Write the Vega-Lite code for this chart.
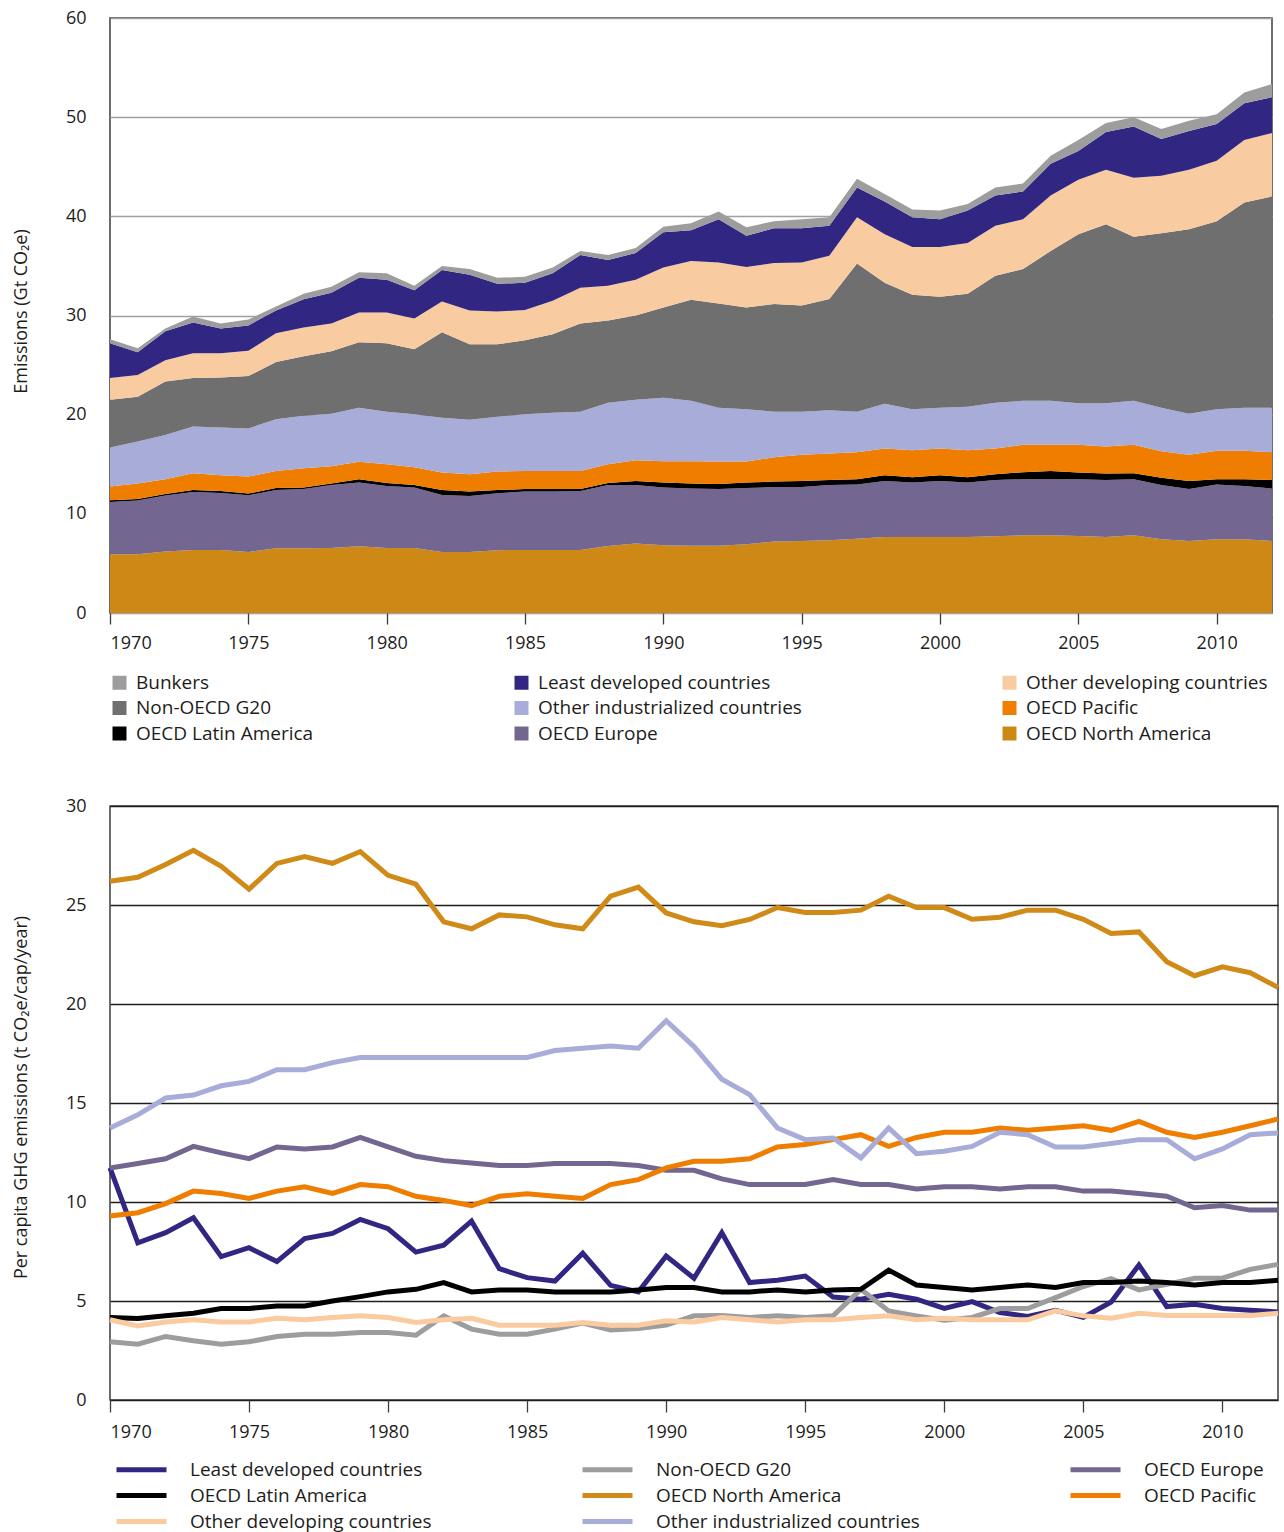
{
  "$schema": "https://vega.github.io/schema/vega-lite/v6.json",
  "background": "white",
  "padding": {"left": 11, "top": 8, "right": 4, "bottom": 5},
  "spacing": 51,
  "resolve": {"scale": {"color": "independent"}, "legend": {"color": "independent"}},
  "config": {
    "font": "Open Sans",
    "view": {"stroke": "#3c3c3c", "strokeWidth": 1.5},
    "axis": {"labelFont": "Open Sans", "labelFontSize": 18, "labelColor": "#1d1d1b", "titleFont": "Open Sans", "titleFontSize": 18, "titleFontWeight": "normal", "titleColor": "#1d1d1b", "domain": false},
    "legend": {"labelFont": "Open Sans", "labelFontSize": 19, "labelColor": "#1d1d1b", "padding": 0, "title": null}
  },
  "datasets": {
    "layers": [
      {"region":"OECD North America","layer":1},{"region":"OECD Europe","layer":2},{"region":"OECD Latin America","layer":3},{"region":"OECD Pacific","layer":4},{"region":"Other industrialized countries","layer":5},{"region":"Non-OECD G20","layer":6},{"region":"Other developing countries","layer":7},{"region":"Least developed countries","layer":8},{"region":"Bunkers","layer":9}
    ],
    "emissions": [
      {"year":1970,"region":"OECD North America","value":5.92},{"year":1970,"region":"OECD Europe","value":5.28},{"year":1970,"region":"OECD Latin America","value":0.17},{"year":1970,"region":"OECD Pacific","value":1.38},{"year":1970,"region":"Other industrialized countries","value":3.95},{"year":1970,"region":"Non-OECD G20","value":4.8},{"year":1970,"region":"Other developing countries","value":2.2},{"year":1970,"region":"Least developed countries","value":3.5},{"year":1970,"region":"Bunkers","value":0.4},
      {"year":1971,"region":"OECD North America","value":5.92},{"year":1971,"region":"OECD Europe","value":5.43},{"year":1971,"region":"OECD Latin America","value":0.15},{"year":1971,"region":"OECD Pacific","value":1.55},{"year":1971,"region":"Other industrialized countries","value":4.25},{"year":1971,"region":"Non-OECD G20","value":4.5},{"year":1971,"region":"Other developing countries","value":2.2},{"year":1971,"region":"Least developed countries","value":2.3},{"year":1971,"region":"Bunkers","value":0.4},
      {"year":1972,"region":"OECD North America","value":6.19},{"year":1972,"region":"OECD Europe","value":5.65},{"year":1972,"region":"OECD Latin America","value":0.16},{"year":1972,"region":"OECD Pacific","value":1.5},{"year":1972,"region":"Other industrialized countries","value":4.46},{"year":1972,"region":"Non-OECD G20","value":5.39},{"year":1972,"region":"Other developing countries","value":2.15},{"year":1972,"region":"Least developed countries","value":2.9},{"year":1972,"region":"Bunkers","value":0.3},
      {"year":1973,"region":"OECD North America","value":6.36},{"year":1973,"region":"OECD Europe","value":5.84},{"year":1973,"region":"OECD Latin America","value":0.2},{"year":1973,"region":"OECD Pacific","value":1.7},{"year":1973,"region":"Other industrialized countries","value":4.7},{"year":1973,"region":"Non-OECD G20","value":4.9},{"year":1973,"region":"Other developing countries","value":2.5},{"year":1973,"region":"Least developed countries","value":3.1},{"year":1973,"region":"Bunkers","value":0.6},
      {"year":1974,"region":"OECD North America","value":6.36},{"year":1974,"region":"OECD Europe","value":5.74},{"year":1974,"region":"OECD Latin America","value":0.2},{"year":1974,"region":"OECD Pacific","value":1.6},{"year":1974,"region":"Other industrialized countries","value":4.8},{"year":1974,"region":"Non-OECD G20","value":5.05},{"year":1974,"region":"Other developing countries","value":2.45},{"year":1974,"region":"Least developed countries","value":2.5},{"year":1974,"region":"Bunkers","value":0.5},
      {"year":1975,"region":"OECD North America","value":6.16},{"year":1975,"region":"OECD Europe","value":5.72},{"year":1975,"region":"OECD Latin America","value":0.16},{"year":1975,"region":"OECD Pacific","value":1.72},{"year":1975,"region":"Other industrialized countries","value":4.84},{"year":1975,"region":"Non-OECD G20","value":5.3},{"year":1975,"region":"Other developing countries","value":2.54},{"year":1975,"region":"Least developed countries","value":2.56},{"year":1975,"region":"Bunkers","value":0.6},
      {"year":1976,"region":"OECD North America","value":6.53},{"year":1976,"region":"OECD Europe","value":5.87},{"year":1976,"region":"OECD Latin America","value":0.2},{"year":1976,"region":"OECD Pacific","value":1.73},{"year":1976,"region":"Other industrialized countries","value":5.22},{"year":1976,"region":"Non-OECD G20","value":5.75},{"year":1976,"region":"Other developing countries","value":2.9},{"year":1976,"region":"Least developed countries","value":2.3},{"year":1976,"region":"Bunkers","value":0.4},
      {"year":1977,"region":"OECD North America","value":6.53},{"year":1977,"region":"OECD Europe","value":5.97},{"year":1977,"region":"OECD Latin America","value":0.15},{"year":1977,"region":"OECD Pacific","value":1.95},{"year":1977,"region":"Other industrialized countries","value":5.3},{"year":1977,"region":"Non-OECD G20","value":6.0},{"year":1977,"region":"Other developing countries","value":2.9},{"year":1977,"region":"Least developed countries","value":2.85},{"year":1977,"region":"Bunkers","value":0.55},
      {"year":1978,"region":"OECD North America","value":6.56},{"year":1978,"region":"OECD Europe","value":6.34},{"year":1978,"region":"OECD Latin America","value":0.15},{"year":1978,"region":"OECD Pacific","value":1.75},{"year":1978,"region":"Other industrialized countries","value":5.3},{"year":1978,"region":"Non-OECD G20","value":6.3},{"year":1978,"region":"Other developing countries","value":2.8},{"year":1978,"region":"Least developed countries","value":3.1},{"year":1978,"region":"Bunkers","value":0.6},
      {"year":1979,"region":"OECD North America","value":6.73},{"year":1979,"region":"OECD Europe","value":6.42},{"year":1979,"region":"OECD Latin America","value":0.35},{"year":1979,"region":"OECD Pacific","value":1.74},{"year":1979,"region":"Other industrialized countries","value":5.46},{"year":1979,"region":"Non-OECD G20","value":6.6},{"year":1979,"region":"Other developing countries","value":3.0},{"year":1979,"region":"Least developed countries","value":3.5},{"year":1979,"region":"Bunkers","value":0.55},
      {"year":1980,"region":"OECD North America","value":6.56},{"year":1980,"region":"OECD Europe","value":6.24},{"year":1980,"region":"OECD Latin America","value":0.3},{"year":1980,"region":"OECD Pacific","value":1.9},{"year":1980,"region":"Other industrialized countries","value":5.3},{"year":1980,"region":"Non-OECD G20","value":6.9},{"year":1980,"region":"Other developing countries","value":3.1},{"year":1980,"region":"Least developed countries","value":3.3},{"year":1980,"region":"Bunkers","value":0.65},
      {"year":1981,"region":"OECD North America","value":6.56},{"year":1981,"region":"OECD Europe","value":6.09},{"year":1981,"region":"OECD Latin America","value":0.25},{"year":1981,"region":"OECD Pacific","value":1.8},{"year":1981,"region":"Other industrialized countries","value":5.35},{"year":1981,"region":"Non-OECD G20","value":6.55},{"year":1981,"region":"Other developing countries","value":3.1},{"year":1981,"region":"Least developed countries","value":2.85},{"year":1981,"region":"Bunkers","value":0.45},
      {"year":1982,"region":"OECD North America","value":6.16},{"year":1982,"region":"OECD Europe","value":5.74},{"year":1982,"region":"OECD Latin America","value":0.5},{"year":1982,"region":"OECD Pacific","value":1.76},{"year":1982,"region":"Other industrialized countries","value":5.54},{"year":1982,"region":"Non-OECD G20","value":8.6},{"year":1982,"region":"Other developing countries","value":3.1},{"year":1982,"region":"Least developed countries","value":3.2},{"year":1982,"region":"Bunkers","value":0.4},
      {"year":1983,"region":"OECD North America","value":6.16},{"year":1983,"region":"OECD Europe","value":5.64},{"year":1983,"region":"OECD Latin America","value":0.45},{"year":1983,"region":"OECD Pacific","value":1.75},{"year":1983,"region":"Other industrialized countries","value":5.5},{"year":1983,"region":"Non-OECD G20","value":7.6},{"year":1983,"region":"Other developing countries","value":3.4},{"year":1983,"region":"Least developed countries","value":3.6},{"year":1983,"region":"Bunkers","value":0.6},
      {"year":1984,"region":"OECD North America","value":6.33},{"year":1984,"region":"OECD Europe","value":5.75},{"year":1984,"region":"OECD Latin America","value":0.32},{"year":1984,"region":"OECD Pacific","value":1.86},{"year":1984,"region":"Other industrialized countries","value":5.54},{"year":1984,"region":"Non-OECD G20","value":7.3},{"year":1984,"region":"Other developing countries","value":3.3},{"year":1984,"region":"Least developed countries","value":2.8},{"year":1984,"region":"Bunkers","value":0.6},
      {"year":1985,"region":"OECD North America","value":6.36},{"year":1985,"region":"OECD Europe","value":5.89},{"year":1985,"region":"OECD Latin America","value":0.25},{"year":1985,"region":"OECD Pacific","value":1.83},{"year":1985,"region":"Other industrialized countries","value":5.72},{"year":1985,"region":"Non-OECD G20","value":7.45},{"year":1985,"region":"Other developing countries","value":3.05},{"year":1985,"region":"Least developed countries","value":2.75},{"year":1985,"region":"Bunkers","value":0.6},
      {"year":1986,"region":"OECD North America","value":6.36},{"year":1986,"region":"OECD Europe","value":5.89},{"year":1986,"region":"OECD Latin America","value":0.25},{"year":1986,"region":"OECD Pacific","value":1.83},{"year":1986,"region":"Other industrialized countries","value":5.87},{"year":1986,"region":"Non-OECD G20","value":7.9},{"year":1986,"region":"Other developing countries","value":3.4},{"year":1986,"region":"Least developed countries","value":2.75},{"year":1986,"region":"Bunkers","value":0.6},
      {"year":1987,"region":"OECD North America","value":6.36},{"year":1987,"region":"OECD Europe","value":5.94},{"year":1987,"region":"OECD Latin America","value":0.2},{"year":1987,"region":"OECD Pacific","value":1.83},{"year":1987,"region":"Other industrialized countries","value":5.97},{"year":1987,"region":"Non-OECD G20","value":8.9},{"year":1987,"region":"Other developing countries","value":3.6},{"year":1987,"region":"Least developed countries","value":3.3},{"year":1987,"region":"Bunkers","value":0.4},
      {"year":1988,"region":"OECD North America","value":6.76},{"year":1988,"region":"OECD Europe","value":6.14},{"year":1988,"region":"OECD Latin America","value":0.2},{"year":1988,"region":"OECD Pacific","value":1.9},{"year":1988,"region":"Other industrialized countries","value":6.2},{"year":1988,"region":"Non-OECD G20","value":8.3},{"year":1988,"region":"Other developing countries","value":3.5},{"year":1988,"region":"Least developed countries","value":2.6},{"year":1988,"region":"Bunkers","value":0.5},
      {"year":1989,"region":"OECD North America","value":7.0},{"year":1989,"region":"OECD Europe","value":5.9},{"year":1989,"region":"OECD Latin America","value":0.4},{"year":1989,"region":"OECD Pacific","value":2.1},{"year":1989,"region":"Other industrialized countries","value":6.1},{"year":1989,"region":"Non-OECD G20","value":8.5},{"year":1989,"region":"Other developing countries","value":3.6},{"year":1989,"region":"Least developed countries","value":2.7},{"year":1989,"region":"Bunkers","value":0.5},
      {"year":1990,"region":"OECD North America","value":6.83},{"year":1990,"region":"OECD Europe","value":5.82},{"year":1990,"region":"OECD Latin America","value":0.5},{"year":1990,"region":"OECD Pacific","value":2.15},{"year":1990,"region":"Other industrialized countries","value":6.4},{"year":1990,"region":"Non-OECD G20","value":9.1},{"year":1990,"region":"Other developing countries","value":4.05},{"year":1990,"region":"Least developed countries","value":3.55},{"year":1990,"region":"Bunkers","value":0.56},
      {"year":1991,"region":"OECD North America","value":6.78},{"year":1991,"region":"OECD Europe","value":5.77},{"year":1991,"region":"OECD Latin America","value":0.5},{"year":1991,"region":"OECD Pacific","value":2.25},{"year":1991,"region":"Other industrialized countries","value":6.1},{"year":1991,"region":"Non-OECD G20","value":10.2},{"year":1991,"region":"Other developing countries","value":3.9},{"year":1991,"region":"Least developed countries","value":3.1},{"year":1991,"region":"Bunkers","value":0.7},
      {"year":1992,"region":"OECD North America","value":6.78},{"year":1992,"region":"OECD Europe","value":5.72},{"year":1992,"region":"OECD Latin America","value":0.5},{"year":1992,"region":"OECD Pacific","value":2.27},{"year":1992,"region":"Other industrialized countries","value":5.43},{"year":1992,"region":"Non-OECD G20","value":10.5},{"year":1992,"region":"Other developing countries","value":4.15},{"year":1992,"region":"Least developed countries","value":4.35},{"year":1992,"region":"Bunkers","value":0.8},
      {"year":1993,"region":"OECD North America","value":6.93},{"year":1993,"region":"OECD Europe","value":5.67},{"year":1993,"region":"OECD Latin America","value":0.55},{"year":1993,"region":"OECD Pacific","value":2.12},{"year":1993,"region":"Other industrialized countries","value":5.28},{"year":1993,"region":"Non-OECD G20","value":10.25},{"year":1993,"region":"Other developing countries","value":4.1},{"year":1993,"region":"Least developed countries","value":3.15},{"year":1993,"region":"Bunkers","value":0.85},
      {"year":1994,"region":"OECD North America","value":7.2},{"year":1994,"region":"OECD Europe","value":5.5},{"year":1994,"region":"OECD Latin America","value":0.55},{"year":1994,"region":"OECD Pacific","value":2.45},{"year":1994,"region":"Other industrialized countries","value":4.6},{"year":1994,"region":"Non-OECD G20","value":10.85},{"year":1994,"region":"Other developing countries","value":4.15},{"year":1994,"region":"Least developed countries","value":3.5},{"year":1994,"region":"Bunkers","value":0.7},
      {"year":1995,"region":"OECD North America","value":7.27},{"year":1995,"region":"OECD Europe","value":5.43},{"year":1995,"region":"OECD Latin America","value":0.6},{"year":1995,"region":"OECD Pacific","value":2.65},{"year":1995,"region":"Other industrialized countries","value":4.35},{"year":1995,"region":"Non-OECD G20","value":10.7},{"year":1995,"region":"Other developing countries","value":4.35},{"year":1995,"region":"Least developed countries","value":3.45},{"year":1995,"region":"Bunkers","value":0.9},
      {"year":1996,"region":"OECD North America","value":7.34},{"year":1996,"region":"OECD Europe","value":5.56},{"year":1996,"region":"OECD Latin America","value":0.5},{"year":1996,"region":"OECD Pacific","value":2.68},{"year":1996,"region":"Other industrialized countries","value":4.37},{"year":1996,"region":"Non-OECD G20","value":11.21},{"year":1996,"region":"Other developing countries","value":4.37},{"year":1996,"region":"Least developed countries","value":3.03},{"year":1996,"region":"Bunkers","value":0.84},
      {"year":1997,"region":"OECD North America","value":7.5},{"year":1997,"region":"OECD Europe","value":5.45},{"year":1997,"region":"OECD Latin America","value":0.55},{"year":1997,"region":"OECD Pacific","value":2.7},{"year":1997,"region":"Other industrialized countries","value":4.1},{"year":1997,"region":"Non-OECD G20","value":14.95},{"year":1997,"region":"Other developing countries","value":4.65},{"year":1997,"region":"Least developed countries","value":3.0},{"year":1997,"region":"Bunkers","value":0.9},
      {"year":1998,"region":"OECD North America","value":7.67},{"year":1998,"region":"OECD Europe","value":5.63},{"year":1998,"region":"OECD Latin America","value":0.6},{"year":1998,"region":"OECD Pacific","value":2.7},{"year":1998,"region":"Other industrialized countries","value":4.5},{"year":1998,"region":"Non-OECD G20","value":12.2},{"year":1998,"region":"Other developing countries","value":4.9},{"year":1998,"region":"Least developed countries","value":3.3},{"year":1998,"region":"Bunkers","value":0.75},
      {"year":1999,"region":"OECD North America","value":7.67},{"year":1999,"region":"OECD Europe","value":5.48},{"year":1999,"region":"OECD Latin America","value":0.55},{"year":1999,"region":"OECD Pacific","value":2.7},{"year":1999,"region":"Other industrialized countries","value":4.15},{"year":1999,"region":"Non-OECD G20","value":11.55},{"year":1999,"region":"Other developing countries","value":4.8},{"year":1999,"region":"Least developed countries","value":3.0},{"year":1999,"region":"Bunkers","value":0.8},
      {"year":2000,"region":"OECD North America","value":7.67},{"year":2000,"region":"OECD Europe","value":5.63},{"year":2000,"region":"OECD Latin America","value":0.6},{"year":2000,"region":"OECD Pacific","value":2.7},{"year":2000,"region":"Other industrialized countries","value":4.1},{"year":2000,"region":"Non-OECD G20","value":11.2},{"year":2000,"region":"Other developing countries","value":5.0},{"year":2000,"region":"Least developed countries","value":2.8},{"year":2000,"region":"Bunkers","value":0.9},
      {"year":2001,"region":"OECD North America","value":7.67},{"year":2001,"region":"OECD Europe","value":5.48},{"year":2001,"region":"OECD Latin America","value":0.55},{"year":2001,"region":"OECD Pacific","value":2.7},{"year":2001,"region":"Other industrialized countries","value":4.4},{"year":2001,"region":"Non-OECD G20","value":11.4},{"year":2001,"region":"Other developing countries","value":5.1},{"year":2001,"region":"Least developed countries","value":3.3},{"year":2001,"region":"Bunkers","value":0.65},
      {"year":2002,"region":"OECD North America","value":7.74},{"year":2002,"region":"OECD Europe","value":5.66},{"year":2002,"region":"OECD Latin America","value":0.6},{"year":2002,"region":"OECD Pacific","value":2.6},{"year":2002,"region":"Other industrialized countries","value":4.6},{"year":2002,"region":"Non-OECD G20","value":12.8},{"year":2002,"region":"Other developing countries","value":5.06},{"year":2002,"region":"Least developed countries","value":3.04},{"year":2002,"region":"Bunkers","value":0.8},
      {"year":2003,"region":"OECD North America","value":7.84},{"year":2003,"region":"OECD Europe","value":5.66},{"year":2003,"region":"OECD Latin America","value":0.7},{"year":2003,"region":"OECD Pacific","value":2.76},{"year":2003,"region":"Other industrialized countries","value":4.44},{"year":2003,"region":"Non-OECD G20","value":13.3},{"year":2003,"region":"Other developing countries","value":5.0},{"year":2003,"region":"Least developed countries","value":2.8},{"year":2003,"region":"Bunkers","value":0.8},
      {"year":2004,"region":"OECD North America","value":7.84},{"year":2004,"region":"OECD Europe","value":5.66},{"year":2004,"region":"OECD Latin America","value":0.83},{"year":2004,"region":"OECD Pacific","value":2.63},{"year":2004,"region":"Other industrialized countries","value":4.44},{"year":2004,"region":"Non-OECD G20","value":15.1},{"year":2004,"region":"Other developing countries","value":5.6},{"year":2004,"region":"Least developed countries","value":3.2},{"year":2004,"region":"Bunkers","value":0.8},
      {"year":2005,"region":"OECD North America","value":7.77},{"year":2005,"region":"OECD Europe","value":5.73},{"year":2005,"region":"OECD Latin America","value":0.66},{"year":2005,"region":"OECD Pacific","value":2.8},{"year":2005,"region":"Other industrialized countries","value":4.19},{"year":2005,"region":"Non-OECD G20","value":17.05},{"year":2005,"region":"Other developing countries","value":5.5},{"year":2005,"region":"Least developed countries","value":2.9},{"year":2005,"region":"Bunkers","value":1.1},
      {"year":2006,"region":"OECD North America","value":7.67},{"year":2006,"region":"OECD Europe","value":5.73},{"year":2006,"region":"OECD Latin America","value":0.66},{"year":2006,"region":"OECD Pacific","value":2.74},{"year":2006,"region":"Other industrialized countries","value":4.35},{"year":2006,"region":"Non-OECD G20","value":18.05},{"year":2006,"region":"Other developing countries","value":5.5},{"year":2006,"region":"Least developed countries","value":3.8},{"year":2006,"region":"Bunkers","value":0.9},
      {"year":2007,"region":"OECD North America","value":7.84},{"year":2007,"region":"OECD Europe","value":5.66},{"year":2007,"region":"OECD Latin America","value":0.6},{"year":2007,"region":"OECD Pacific","value":2.86},{"year":2007,"region":"Other industrialized countries","value":4.44},{"year":2007,"region":"Non-OECD G20","value":16.55},{"year":2007,"region":"Other developing countries","value":5.95},{"year":2007,"region":"Least developed countries","value":5.15},{"year":2007,"region":"Bunkers","value":0.95},
      {"year":2008,"region":"OECD North America","value":7.44},{"year":2008,"region":"OECD Europe","value":5.46},{"year":2008,"region":"OECD Latin America","value":0.75},{"year":2008,"region":"OECD Pacific","value":2.65},{"year":2008,"region":"Other industrialized countries","value":4.4},{"year":2008,"region":"Non-OECD G20","value":17.6},{"year":2008,"region":"Other developing countries","value":5.8},{"year":2008,"region":"Least developed countries","value":3.7},{"year":2008,"region":"Bunkers","value":1.0},
      {"year":2009,"region":"OECD North America","value":7.27},{"year":2009,"region":"OECD Europe","value":5.23},{"year":2009,"region":"OECD Latin America","value":0.8},{"year":2009,"region":"OECD Pacific","value":2.65},{"year":2009,"region":"Other industrialized countries","value":4.15},{"year":2009,"region":"Non-OECD G20","value":18.6},{"year":2009,"region":"Other developing countries","value":6.0},{"year":2009,"region":"Least developed countries","value":3.9},{"year":2009,"region":"Bunkers","value":1.05},
      {"year":2010,"region":"OECD North America","value":7.44},{"year":2010,"region":"OECD Europe","value":5.51},{"year":2010,"region":"OECD Latin America","value":0.55},{"year":2010,"region":"OECD Pacific","value":2.85},{"year":2010,"region":"Other industrialized countries","value":4.2},{"year":2010,"region":"Non-OECD G20","value":18.95},{"year":2010,"region":"Other developing countries","value":6.1},{"year":2010,"region":"Least developed countries","value":3.7},{"year":2010,"region":"Bunkers","value":1.0},
      {"year":2011,"region":"OECD North America","value":7.44},{"year":2011,"region":"OECD Europe","value":5.36},{"year":2011,"region":"OECD Latin America","value":0.7},{"year":2011,"region":"OECD Pacific","value":2.85},{"year":2011,"region":"Other industrialized countries","value":4.35},{"year":2011,"region":"Non-OECD G20","value":20.7},{"year":2011,"region":"Other developing countries","value":6.3},{"year":2011,"region":"Least developed countries","value":3.7},{"year":2011,"region":"Bunkers","value":1.1},
      {"year":2012,"region":"OECD North America","value":7.27},{"year":2012,"region":"OECD Europe","value":5.28},{"year":2012,"region":"OECD Latin America","value":0.85},{"year":2012,"region":"OECD Pacific","value":2.8},{"year":2012,"region":"Other industrialized countries","value":4.5},{"year":2012,"region":"Non-OECD G20","value":21.3},{"year":2012,"region":"Other developing countries","value":6.4},{"year":2012,"region":"Least developed countries","value":3.6},{"year":2012,"region":"Bunkers","value":1.35}
    ],
    "percap": [
      {"year":1970,"region":"Least developed countries","value":11.72},{"year":1970,"region":"Non-OECD G20","value":2.94},{"year":1970,"region":"OECD Europe","value":11.72},{"year":1970,"region":"OECD Latin America","value":4.17},{"year":1970,"region":"OECD North America","value":26.2},{"year":1970,"region":"OECD Pacific","value":9.29},{"year":1970,"region":"Other developing countries","value":4.05},{"year":1970,"region":"Other industrialized countries","value":13.74},
      {"year":1971,"region":"Least developed countries","value":7.94},{"year":1971,"region":"Non-OECD G20","value":2.82},{"year":1971,"region":"OECD Europe","value":11.94},{"year":1971,"region":"OECD Latin America","value":4.12},{"year":1971,"region":"OECD North America","value":26.4},{"year":1971,"region":"OECD Pacific","value":9.46},{"year":1971,"region":"Other developing countries","value":3.74},{"year":1971,"region":"Other industrialized countries","value":14.4},
      {"year":1972,"region":"Least developed countries","value":8.45},{"year":1972,"region":"Non-OECD G20","value":3.21},{"year":1972,"region":"OECD Europe","value":12.18},{"year":1972,"region":"OECD Latin America","value":4.25},{"year":1972,"region":"OECD North America","value":27.05},{"year":1972,"region":"OECD Pacific","value":9.92},{"year":1972,"region":"Other developing countries","value":3.94},{"year":1972,"region":"Other industrialized countries","value":15.25},
      {"year":1973,"region":"Least developed countries","value":9.2},{"year":1973,"region":"Non-OECD G20","value":2.99},{"year":1973,"region":"OECD Europe","value":12.81},{"year":1973,"region":"OECD Latin America","value":4.38},{"year":1973,"region":"OECD North America","value":27.76},{"year":1973,"region":"OECD Pacific","value":10.55},{"year":1973,"region":"Other developing countries","value":4.05},{"year":1973,"region":"Other industrialized countries","value":15.4},
      {"year":1974,"region":"Least developed countries","value":7.24},{"year":1974,"region":"Non-OECD G20","value":2.82},{"year":1974,"region":"OECD Europe","value":12.48},{"year":1974,"region":"OECD Latin America","value":4.62},{"year":1974,"region":"OECD North America","value":26.95},{"year":1974,"region":"OECD Pacific","value":10.43},{"year":1974,"region":"Other developing countries","value":3.94},{"year":1974,"region":"Other industrialized countries","value":15.87},
      {"year":1975,"region":"Least developed countries","value":7.69},{"year":1975,"region":"Non-OECD G20","value":2.94},{"year":1975,"region":"OECD Europe","value":12.19},{"year":1975,"region":"OECD Latin America","value":4.62},{"year":1975,"region":"OECD North America","value":25.8},{"year":1975,"region":"OECD Pacific","value":10.18},{"year":1975,"region":"Other developing countries","value":3.94},{"year":1975,"region":"Other industrialized countries","value":16.09},
      {"year":1976,"region":"Least developed countries","value":6.99},{"year":1976,"region":"Non-OECD G20","value":3.21},{"year":1976,"region":"OECD Europe","value":12.78},{"year":1976,"region":"OECD Latin America","value":4.75},{"year":1976,"region":"OECD North America","value":27.1},{"year":1976,"region":"OECD Pacific","value":10.55},{"year":1976,"region":"Other developing countries","value":4.13},{"year":1976,"region":"Other industrialized countries","value":16.68},
      {"year":1977,"region":"Least developed countries","value":8.15},{"year":1977,"region":"Non-OECD G20","value":3.32},{"year":1977,"region":"OECD Europe","value":12.68},{"year":1977,"region":"OECD Latin America","value":4.75},{"year":1977,"region":"OECD North America","value":27.45},{"year":1977,"region":"OECD Pacific","value":10.77},{"year":1977,"region":"Other developing countries","value":4.05},{"year":1977,"region":"Other industrialized countries","value":16.68},
      {"year":1978,"region":"Least developed countries","value":8.41},{"year":1978,"region":"Non-OECD G20","value":3.32},{"year":1978,"region":"OECD Europe","value":12.78},{"year":1978,"region":"OECD Latin America","value":5.0},{"year":1978,"region":"OECD North America","value":27.1},{"year":1978,"region":"OECD Pacific","value":10.43},{"year":1978,"region":"Other developing countries","value":4.17},{"year":1978,"region":"Other industrialized countries","value":17.04},
      {"year":1979,"region":"Least developed countries","value":9.12},{"year":1979,"region":"Non-OECD G20","value":3.41},{"year":1979,"region":"OECD Europe","value":13.26},{"year":1979,"region":"OECD Latin America","value":5.22},{"year":1979,"region":"OECD North America","value":27.7},{"year":1979,"region":"OECD Pacific","value":10.88},{"year":1979,"region":"Other developing countries","value":4.25},{"year":1979,"region":"Other industrialized countries","value":17.3},
      {"year":1980,"region":"Least developed countries","value":8.65},{"year":1980,"region":"Non-OECD G20","value":3.41},{"year":1980,"region":"OECD Europe","value":12.78},{"year":1980,"region":"OECD Latin America","value":5.46},{"year":1980,"region":"OECD North America","value":26.5},{"year":1980,"region":"OECD Pacific","value":10.77},{"year":1980,"region":"Other developing countries","value":4.17},{"year":1980,"region":"Other industrialized countries","value":17.3},
      {"year":1981,"region":"Least developed countries","value":7.47},{"year":1981,"region":"Non-OECD G20","value":3.27},{"year":1981,"region":"OECD Europe","value":12.31},{"year":1981,"region":"OECD Latin America","value":5.59},{"year":1981,"region":"OECD North America","value":26.05},{"year":1981,"region":"OECD Pacific","value":10.29},{"year":1981,"region":"Other developing countries","value":3.91},{"year":1981,"region":"Other industrialized countries","value":17.3},
      {"year":1982,"region":"Least developed countries","value":7.82},{"year":1982,"region":"Non-OECD G20","value":4.25},{"year":1982,"region":"OECD Europe","value":12.09},{"year":1982,"region":"OECD Latin America","value":5.93},{"year":1982,"region":"OECD North America","value":24.15},{"year":1982,"region":"OECD Pacific","value":10.08},{"year":1982,"region":"Other developing countries","value":4.05},{"year":1982,"region":"Other industrialized countries","value":17.3},
      {"year":1983,"region":"Least developed countries","value":9.03},{"year":1983,"region":"Non-OECD G20","value":3.58},{"year":1983,"region":"OECD Europe","value":11.97},{"year":1983,"region":"OECD Latin America","value":5.46},{"year":1983,"region":"OECD North America","value":23.8},{"year":1983,"region":"OECD Pacific","value":9.82},{"year":1983,"region":"Other developing countries","value":4.13},{"year":1983,"region":"Other industrialized countries","value":17.3},
      {"year":1984,"region":"Least developed countries","value":6.63},{"year":1984,"region":"Non-OECD G20","value":3.32},{"year":1984,"region":"OECD Europe","value":11.84},{"year":1984,"region":"OECD Latin America","value":5.56},{"year":1984,"region":"OECD North America","value":24.5},{"year":1984,"region":"OECD Pacific","value":10.29},{"year":1984,"region":"Other developing countries","value":3.78},{"year":1984,"region":"Other industrialized countries","value":17.3},
      {"year":1985,"region":"Least developed countries","value":6.18},{"year":1985,"region":"Non-OECD G20","value":3.32},{"year":1985,"region":"OECD Europe","value":11.84},{"year":1985,"region":"OECD Latin America","value":5.56},{"year":1985,"region":"OECD North America","value":24.4},{"year":1985,"region":"OECD Pacific","value":10.41},{"year":1985,"region":"Other developing countries","value":3.78},{"year":1985,"region":"Other industrialized countries","value":17.3},
      {"year":1986,"region":"Least developed countries","value":6.01},{"year":1986,"region":"Non-OECD G20","value":3.58},{"year":1986,"region":"OECD Europe","value":11.94},{"year":1986,"region":"OECD Latin America","value":5.46},{"year":1986,"region":"OECD North America","value":24.0},{"year":1986,"region":"OECD Pacific","value":10.29},{"year":1986,"region":"Other developing countries","value":3.78},{"year":1986,"region":"Other industrialized countries","value":17.65},
      {"year":1987,"region":"Least developed countries","value":7.41},{"year":1987,"region":"Non-OECD G20","value":3.88},{"year":1987,"region":"OECD Europe","value":11.94},{"year":1987,"region":"OECD Latin America","value":5.46},{"year":1987,"region":"OECD North America","value":23.8},{"year":1987,"region":"OECD Pacific","value":10.18},{"year":1987,"region":"Other developing countries","value":3.91},{"year":1987,"region":"Other industrialized countries","value":17.77},
      {"year":1988,"region":"Least developed countries","value":5.79},{"year":1988,"region":"Non-OECD G20","value":3.54},{"year":1988,"region":"OECD Europe","value":11.94},{"year":1988,"region":"OECD Latin America","value":5.46},{"year":1988,"region":"OECD North America","value":25.45},{"year":1988,"region":"OECD Pacific","value":10.88},{"year":1988,"region":"Other developing countries","value":3.78},{"year":1988,"region":"Other industrialized countries","value":17.88},
      {"year":1989,"region":"Least developed countries","value":5.46},{"year":1989,"region":"Non-OECD G20","value":3.61},{"year":1989,"region":"OECD Europe","value":11.84},{"year":1989,"region":"OECD Latin America","value":5.56},{"year":1989,"region":"OECD North America","value":25.9},{"year":1989,"region":"OECD Pacific","value":11.13},{"year":1989,"region":"Other developing countries","value":3.78},{"year":1989,"region":"Other industrialized countries","value":17.77},
      {"year":1990,"region":"Least developed countries","value":7.27},{"year":1990,"region":"Non-OECD G20","value":3.78},{"year":1990,"region":"OECD Europe","value":11.6},{"year":1990,"region":"OECD Latin America","value":5.68},{"year":1990,"region":"OECD North America","value":24.6},{"year":1990,"region":"OECD Pacific","value":11.72},{"year":1990,"region":"Other developing countries","value":4.0},{"year":1990,"region":"Other industrialized countries","value":19.16},
      {"year":1991,"region":"Least developed countries","value":6.15},{"year":1991,"region":"Non-OECD G20","value":4.25},{"year":1991,"region":"OECD Europe","value":11.6},{"year":1991,"region":"OECD Latin America","value":5.68},{"year":1991,"region":"OECD North America","value":24.15},{"year":1991,"region":"OECD Pacific","value":12.06},{"year":1991,"region":"Other developing countries","value":3.94},{"year":1991,"region":"Other industrialized countries","value":17.85},
      {"year":1992,"region":"Least developed countries","value":8.45},{"year":1992,"region":"Non-OECD G20","value":4.27},{"year":1992,"region":"OECD Europe","value":11.17},{"year":1992,"region":"OECD Latin America","value":5.46},{"year":1992,"region":"OECD North America","value":23.95},{"year":1992,"region":"OECD Pacific","value":12.06},{"year":1992,"region":"Other developing countries","value":4.17},{"year":1992,"region":"Other industrialized countries","value":16.2},
      {"year":1993,"region":"Least developed countries","value":5.93},{"year":1993,"region":"Non-OECD G20","value":4.17},{"year":1993,"region":"OECD Europe","value":10.88},{"year":1993,"region":"OECD Latin America","value":5.46},{"year":1993,"region":"OECD North America","value":24.27},{"year":1993,"region":"OECD Pacific","value":12.18},{"year":1993,"region":"Other developing countries","value":4.05},{"year":1993,"region":"Other industrialized countries","value":15.42},
      {"year":1994,"region":"Least developed countries","value":6.05},{"year":1994,"region":"Non-OECD G20","value":4.25},{"year":1994,"region":"OECD Europe","value":10.88},{"year":1994,"region":"OECD Latin America","value":5.56},{"year":1994,"region":"OECD North America","value":24.87},{"year":1994,"region":"OECD Pacific","value":12.78},{"year":1994,"region":"Other developing countries","value":3.94},{"year":1994,"region":"Other industrialized countries","value":13.74},
      {"year":1995,"region":"Least developed countries","value":6.26},{"year":1995,"region":"Non-OECD G20","value":4.17},{"year":1995,"region":"OECD Europe","value":10.88},{"year":1995,"region":"OECD Latin America","value":5.46},{"year":1995,"region":"OECD North America","value":24.62},{"year":1995,"region":"OECD Pacific","value":12.9},{"year":1995,"region":"Other developing countries","value":4.05},{"year":1995,"region":"Other industrialized countries","value":13.15},
      {"year":1996,"region":"Least developed countries","value":5.2},{"year":1996,"region":"Non-OECD G20","value":4.25},{"year":1996,"region":"OECD Europe","value":11.13},{"year":1996,"region":"OECD Latin America","value":5.56},{"year":1996,"region":"OECD North America","value":24.62},{"year":1996,"region":"OECD Pacific","value":13.15},{"year":1996,"region":"Other developing countries","value":4.05},{"year":1996,"region":"Other industrialized countries","value":13.23},
      {"year":1997,"region":"Least developed countries","value":5.09},{"year":1997,"region":"Non-OECD G20","value":5.59},{"year":1997,"region":"OECD Europe","value":10.88},{"year":1997,"region":"OECD Latin America","value":5.59},{"year":1997,"region":"OECD North America","value":24.74},{"year":1997,"region":"OECD Pacific","value":13.4},{"year":1997,"region":"Other developing countries","value":4.17},{"year":1997,"region":"Other industrialized countries","value":12.23},
      {"year":1998,"region":"Least developed countries","value":5.34},{"year":1998,"region":"Non-OECD G20","value":4.5},{"year":1998,"region":"OECD Europe","value":10.88},{"year":1998,"region":"OECD Latin America","value":6.56},{"year":1998,"region":"OECD North America","value":25.44},{"year":1998,"region":"OECD Pacific","value":12.81},{"year":1998,"region":"Other developing countries","value":4.25},{"year":1998,"region":"Other industrialized countries","value":13.74},
      {"year":1999,"region":"Least developed countries","value":5.09},{"year":1999,"region":"Non-OECD G20","value":4.25},{"year":1999,"region":"OECD Europe","value":10.66},{"year":1999,"region":"OECD Latin America","value":5.81},{"year":1999,"region":"OECD North America","value":24.87},{"year":1999,"region":"OECD Pacific","value":13.26},{"year":1999,"region":"Other developing countries","value":4.05},{"year":1999,"region":"Other industrialized countries","value":12.44},
      {"year":2000,"region":"Least developed countries","value":4.63},{"year":2000,"region":"Non-OECD G20","value":4.03},{"year":2000,"region":"OECD Europe","value":10.77},{"year":2000,"region":"OECD Latin America","value":5.68},{"year":2000,"region":"OECD North America","value":24.87},{"year":2000,"region":"OECD Pacific","value":13.52},{"year":2000,"region":"Other developing countries","value":4.13},{"year":2000,"region":"Other industrialized countries","value":12.56},
      {"year":2001,"region":"Least developed countries","value":4.97},{"year":2001,"region":"Non-OECD G20","value":4.17},{"year":2001,"region":"OECD Europe","value":10.77},{"year":2001,"region":"OECD Latin America","value":5.56},{"year":2001,"region":"OECD North America","value":24.28},{"year":2001,"region":"OECD Pacific","value":13.52},{"year":2001,"region":"Other developing countries","value":4.05},{"year":2001,"region":"Other industrialized countries","value":12.81},
      {"year":2002,"region":"Least developed countries","value":4.42},{"year":2002,"region":"Non-OECD G20","value":4.62},{"year":2002,"region":"OECD Europe","value":10.66},{"year":2002,"region":"OECD Latin America","value":5.68},{"year":2002,"region":"OECD North America","value":24.38},{"year":2002,"region":"OECD Pacific","value":13.74},{"year":2002,"region":"Other developing countries","value":4.05},{"year":2002,"region":"Other industrialized countries","value":13.52},
      {"year":2003,"region":"Least developed countries","value":4.22},{"year":2003,"region":"Non-OECD G20","value":4.62},{"year":2003,"region":"OECD Europe","value":10.77},{"year":2003,"region":"OECD Latin America","value":5.81},{"year":2003,"region":"OECD North America","value":24.74},{"year":2003,"region":"OECD Pacific","value":13.62},{"year":2003,"region":"Other developing countries","value":4.05},{"year":2003,"region":"Other industrialized countries","value":13.4},
      {"year":2004,"region":"Least developed countries","value":4.53},{"year":2004,"region":"Non-OECD G20","value":5.17},{"year":2004,"region":"OECD Europe","value":10.77},{"year":2004,"region":"OECD Latin America","value":5.68},{"year":2004,"region":"OECD North America","value":24.74},{"year":2004,"region":"OECD Pacific","value":13.74},{"year":2004,"region":"Other developing countries","value":4.5},{"year":2004,"region":"Other industrialized countries","value":12.78},
      {"year":2005,"region":"Least developed countries","value":4.17},{"year":2005,"region":"Non-OECD G20","value":5.73},{"year":2005,"region":"OECD Europe","value":10.55},{"year":2005,"region":"OECD Latin America","value":5.93},{"year":2005,"region":"OECD North America","value":24.28},{"year":2005,"region":"OECD Pacific","value":13.85},{"year":2005,"region":"Other developing countries","value":4.25},{"year":2005,"region":"Other industrialized countries","value":12.78},
      {"year":2006,"region":"Least developed countries","value":4.95},{"year":2006,"region":"Non-OECD G20","value":6.13},{"year":2006,"region":"OECD Europe","value":10.55},{"year":2006,"region":"OECD Latin America","value":5.93},{"year":2006,"region":"OECD North America","value":23.56},{"year":2006,"region":"OECD Pacific","value":13.62},{"year":2006,"region":"Other developing countries","value":4.13},{"year":2006,"region":"Other industrialized countries","value":12.95},
      {"year":2007,"region":"Least developed countries","value":6.82},{"year":2007,"region":"Non-OECD G20","value":5.56},{"year":2007,"region":"OECD Europe","value":10.43},{"year":2007,"region":"OECD Latin America","value":6.01},{"year":2007,"region":"OECD North America","value":23.64},{"year":2007,"region":"OECD Pacific","value":14.07},{"year":2007,"region":"Other developing countries","value":4.38},{"year":2007,"region":"Other industrialized countries","value":13.15},
      {"year":2008,"region":"Least developed countries","value":4.72},{"year":2008,"region":"Non-OECD G20","value":5.84},{"year":2008,"region":"OECD Europe","value":10.29},{"year":2008,"region":"OECD Latin America","value":5.93},{"year":2008,"region":"OECD North America","value":22.13},{"year":2008,"region":"OECD Pacific","value":13.52},{"year":2008,"region":"Other developing countries","value":4.27},{"year":2008,"region":"Other industrialized countries","value":13.15},
      {"year":2009,"region":"Least developed countries","value":4.84},{"year":2009,"region":"Non-OECD G20","value":6.15},{"year":2009,"region":"OECD Europe","value":9.71},{"year":2009,"region":"OECD Latin America","value":5.81},{"year":2009,"region":"OECD North America","value":21.43},{"year":2009,"region":"OECD Pacific","value":13.26},{"year":2009,"region":"Other developing countries","value":4.27},{"year":2009,"region":"Other industrialized countries","value":12.18},
      {"year":2010,"region":"Least developed countries","value":4.62},{"year":2010,"region":"Non-OECD G20","value":6.15},{"year":2010,"region":"OECD Europe","value":9.82},{"year":2010,"region":"OECD Latin America","value":5.93},{"year":2010,"region":"OECD North America","value":21.88},{"year":2010,"region":"OECD Pacific","value":13.52},{"year":2010,"region":"Other developing countries","value":4.27},{"year":2010,"region":"Other industrialized countries","value":12.68},
      {"year":2011,"region":"Least developed countries","value":4.53},{"year":2011,"region":"Non-OECD G20","value":6.6},{"year":2011,"region":"OECD Europe","value":9.59},{"year":2011,"region":"OECD Latin America","value":5.93},{"year":2011,"region":"OECD North America","value":21.58},{"year":2011,"region":"OECD Pacific","value":13.85},{"year":2011,"region":"Other developing countries","value":4.27},{"year":2011,"region":"Other industrialized countries","value":13.4},
      {"year":2012,"region":"Least developed countries","value":4.45},{"year":2012,"region":"Non-OECD G20","value":6.85},{"year":2012,"region":"OECD Europe","value":9.59},{"year":2012,"region":"OECD Latin America","value":6.05},{"year":2012,"region":"OECD North America","value":20.84},{"year":2012,"region":"OECD Pacific","value":14.19},{"year":2012,"region":"Other developing countries","value":4.38},{"year":2012,"region":"Other industrialized countries","value":13.49}
    ]
  },
  "vconcat": [
    {
      "width": 1162,
      "height": 595,
      "data": {"name": "emissions"},
      "transform": [
        {"lookup": "region", "from": {"data": {"name": "layers"}, "key": "region", "fields": ["layer"]}}
      ],
      "mark": {"type": "area", "interpolate": "linear"},
      "encoding": {
        "x": {"field": "year", "type": "quantitative",
          "scale": {"domain": [1970, 2012], "nice": false, "zero": false},
          "axis": {"values": [1970, 1975, 1980, 1985, 1990, 1995, 2000, 2005, 2010], "format": "d", "grid": false, "ticks": true, "tickSize": 11, "tickColor": "#3c3c3c", "tickWidth": 1.3, "labelPadding": 10, "title": null}},
        "y": {"field": "value", "type": "quantitative", "stack": "zero",
          "scale": {"domain": [0, 60], "nice": false},
          "axis": {"values": [0, 10, 20, 30, 40, 50, 60], "grid": true, "gridColor": "#a0a0a0", "gridWidth": 1.5, "ticks": false, "labelPadding": 24, "title": "Emissions (Gt CO₂e)", "titleX": -80, "titleY": 293}},
        "order": {"field": "layer", "type": "quantitative", "sort": "ascending"},
        "color": {"field": "region", "type": "nominal",
          "scale": {"domain": ["OECD North America", "OECD Europe", "OECD Latin America", "OECD Pacific", "Other industrialized countries", "Non-OECD G20", "Other developing countries", "Least developed countries", "Bunkers"],
            "range": ["#CD8815", "#736791", "#000000", "#EF7D00", "#A8ACD8", "#706F6F", "#F9CBA0", "#312783", "#9D9D9D"]},
          "legend": {"orient": "none", "legendX": 0, "legendY": 655, "columns": 3, "direction": "horizontal",
            "values": ["Bunkers", "Least developed countries", "Other developing countries", "Non-OECD G20", "Other industrialized countries", "OECD Pacific", "OECD Latin America", "OECD Europe", "OECD North America"],
            "symbolType": "square", "symbolSize": 196, "symbolStrokeWidth": 0, "symbolOpacity": 1, "labelOffset": 7, "columnPadding": 198, "rowPadding": 5.5, "labelLimit": 400}}
      }
    },
    {
      "width": 1168,
      "height": 594,
      "data": {"name": "percap"},
      "mark": {"type": "line", "strokeWidth": 5},
      "encoding": {
        "x": {"field": "year", "type": "quantitative",
          "scale": {"domain": [1970, 2012], "nice": false, "zero": false},
          "axis": {"values": [1970, 1975, 1980, 1985, 1990, 1995, 2000, 2005, 2010], "format": "d", "grid": false, "ticks": true, "tickSize": 12, "tickColor": "#3c3c3c", "tickWidth": 1.3, "labelPadding": 11, "title": null}},
        "y": {"field": "value", "type": "quantitative",
          "scale": {"domain": [0, 30], "nice": false},
          "axis": {"values": [0, 5, 10, 15, 20, 25, 30], "grid": true, "gridColor": "#1d1d1b", "gridWidth": 1.3, "ticks": false, "labelPadding": 24, "title": "Per capita GHG emissions (t CO₂e/cap/year)", "titleX": -80, "titleY": 291}},
        "color": {"field": "region", "type": "nominal",
          "scale": {"domain": ["Least developed countries", "Non-OECD G20", "OECD Europe", "OECD Latin America", "OECD North America", "OECD Pacific", "Other developing countries", "Other industrialized countries"],
            "range": ["#312783", "#9D9D9D", "#736791", "#000000", "#D08A17", "#EF7D00", "#FBCBA0", "#A8ACD8"]},
          "legend": {"orient": "none", "legendX": 19, "legendY": 651, "columns": 3, "direction": "horizontal",
            "symbolType": "M-2.5,0H2.5", "symbolSize": 400, "symbolStrokeWidth": 5, "symbolOpacity": 1, "labelOffset": 36, "columnPadding": 140, "rowPadding": 3, "labelLimit": 400}}
      }
    }
  ]
}
